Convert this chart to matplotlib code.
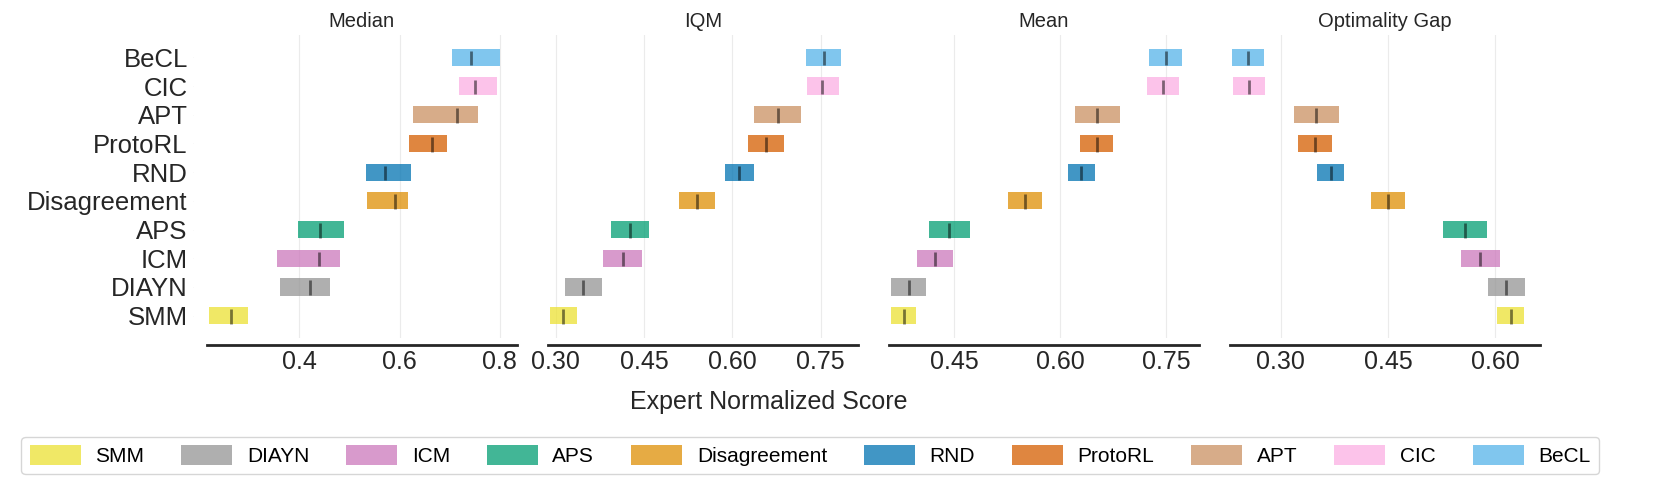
import matplotlib
matplotlib.use("Agg")
import matplotlib.pyplot as plt
import matplotlib.patches as mpatches
import numpy as np

plt.rcParams['font.family'] = ['Liberation Sans', 'DejaVu Sans']

# bottom to top
algorithms = ['SMM', 'DIAYN', 'ICM', 'APS', 'Disagreement', 'RND', 'ProtoRL', 'APT', 'CIC', 'BeCL']
colors = ['#ece133', '#949494', '#cc78bc', '#029e73', '#de8f05',
          '#0173b2', '#d55e00', '#ca9161', '#fbafe4', '#56b4e9']
metric_names = ['Median', 'IQM', 'Mean', 'Optimality Gap']

# point estimates and CI bounds per metric (same order as algorithms)
median_pt = [0.263, 0.421, 0.440, 0.442, 0.591, 0.571, 0.665, 0.714, 0.750, 0.743]
median_lo = [0.219, 0.361, 0.355, 0.398, 0.536, 0.533, 0.619, 0.626, 0.718, 0.705]
median_hi = [0.297, 0.461, 0.481, 0.490, 0.616, 0.623, 0.695, 0.757, 0.795, 0.800]

iqm_pt = [0.313, 0.346, 0.414, 0.427, 0.540, 0.611, 0.657, 0.678, 0.753, 0.755]
iqm_lo = [0.290, 0.315, 0.380, 0.394, 0.510, 0.588, 0.627, 0.637, 0.727, 0.725]
iqm_hi = [0.337, 0.378, 0.446, 0.458, 0.570, 0.636, 0.687, 0.717, 0.781, 0.785]

mean_pt = [0.379, 0.386, 0.423, 0.443, 0.550, 0.630, 0.652, 0.652, 0.746, 0.750]
mean_lo = [0.361, 0.361, 0.397, 0.414, 0.526, 0.611, 0.628, 0.621, 0.723, 0.726]
mean_hi = [0.396, 0.410, 0.449, 0.473, 0.575, 0.649, 0.675, 0.684, 0.768, 0.773]

og_pt = [0.622, 0.615, 0.579, 0.557, 0.450, 0.370, 0.348, 0.350, 0.256, 0.254]
og_lo = [0.602, 0.590, 0.552, 0.527, 0.426, 0.351, 0.325, 0.319, 0.234, 0.232]
og_hi = [0.640, 0.641, 0.606, 0.589, 0.474, 0.389, 0.372, 0.381, 0.279, 0.277]

points = [median_pt, iqm_pt, mean_pt, og_pt]
lows = [median_lo, iqm_lo, mean_lo, og_lo]
highs = [median_hi, iqm_hi, mean_hi, og_hi]
xlims = [(0.215, 0.834), (0.2864, 0.813), (0.3576, 0.796), (0.229, 0.662)]
xticks = [[0.4, 0.6, 0.8], [0.30, 0.45, 0.60, 0.75], [0.45, 0.60, 0.75], [0.30, 0.45, 0.60]]
xticklabels = [['0.4', '0.6', '0.8'], ['0.30', '0.45', '0.60', '0.75'],
               ['0.45', '0.60', '0.75'], ['0.30', '0.45', '0.60']]

fig = plt.figure(figsize=(16.61, 4.86), dpi=100)
W, H = 1661.0, 486.0
h = 0.6
for idx, name in enumerate(metric_names):
    left = (206.7 + 341 * idx) / W
    ax = fig.add_axes([left, 1 - 338 / H, 310 / W, (338 - 35) / H])
    for i, alg in enumerate(algorithms):
        lo, hi = lows[idx][i], highs[idx][i]
        ax.barh(y=i, width=hi - lo, height=h, left=lo, color=colors[i], alpha=0.75)
        ax.vlines(x=points[idx][i], ymin=i - 7.5 * h / 16, ymax=i + 6 * h / 16,
                  color='k', alpha=0.5, linewidth=2)
    ax.set_xlim(*xlims[idx])
    ax.set_ylim(-0.78, 9.78)
    ax.set_xticks(xticks[idx])
    ax.set_xticklabels(xticklabels[idx])
    ax.spines['right'].set_visible(False)
    ax.spines['top'].set_visible(False)
    ax.spines['left'].set_visible(False)
    ax.spines['bottom'].set_linewidth(2)
    ax.spines['bottom'].set_color('#262626')
    ax.spines['bottom'].set_position(('outward', 5))
    ax.spines['left'].set_position(('outward', 10))
    ax.tick_params(axis='x', length=0.1, width=0.1, labelsize=18, colors='#262626')
    ax.tick_params(axis='y', length=0.1, width=0.1, labelsize=18.5, colors='#262626')
    if idx == 0:
        ax.set_yticks(range(len(algorithms)))
        ax.set_yticklabels(algorithms)
    else:
        ax.set_yticks([])
    ax.set_title(name, fontsize=14.5, color='#262626')
    ax.grid(True, axis='x', alpha=0.25, color='#b0b0b0')
    ax.set_axisbelow(True)

fig.text(0.463, 0.172, 'Expert Normalized Score', ha='center', va='center',
         fontsize=18, color='#262626')

handles = [mpatches.Patch(facecolor=c, alpha=0.75, label=a) for a, c in zip(algorithms, colors)]
fig.legend(handles=handles, loc='center', bbox_to_anchor=(0.4877, 0.063), ncol=10,
           fontsize=15, handlelength=2.45, handleheight=1.1, handletextpad=0.7,
           columnspacing=1.77, frameon=True, fancybox=True, edgecolor='#cccccc')

fig.savefig('out.png', dpi=100)
